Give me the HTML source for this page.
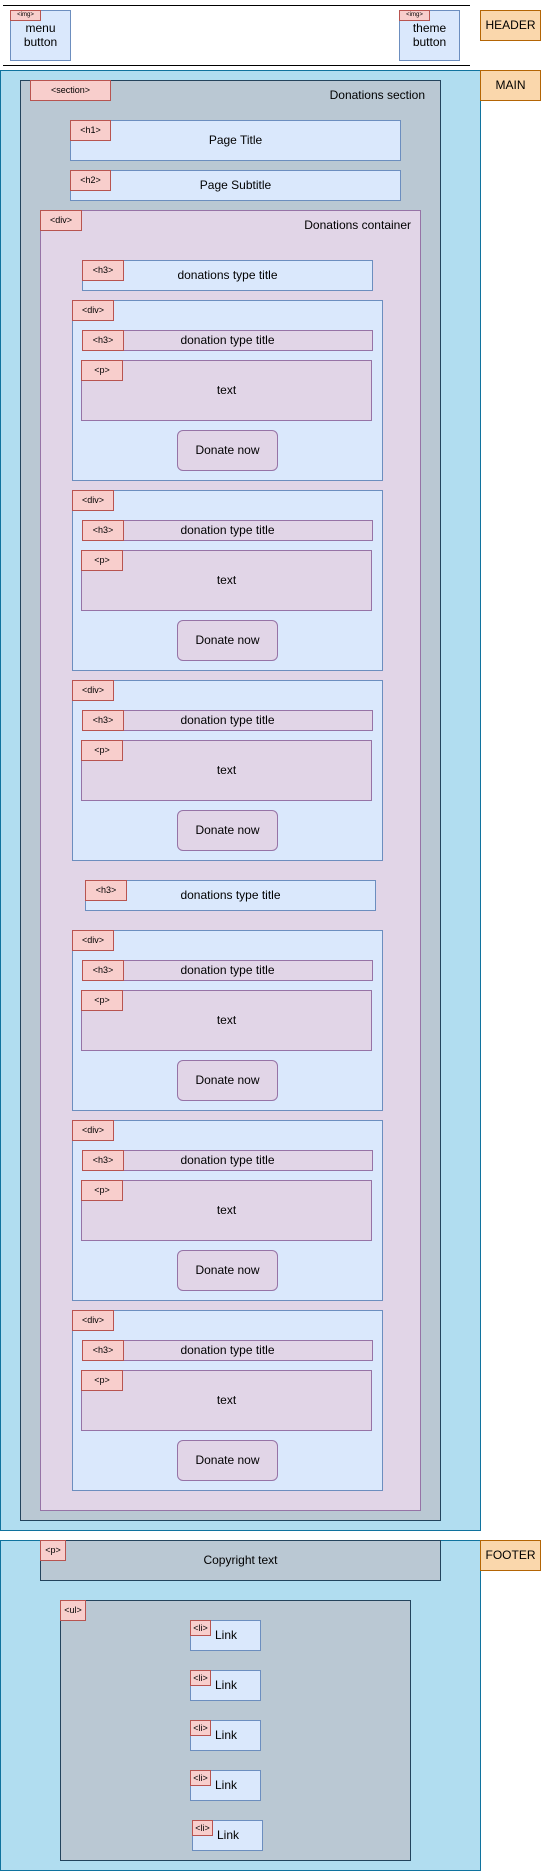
<!DOCTYPE html>
<html><head><meta charset="utf-8"><style>
body{margin:0;width:541px;height:1871px;position:relative;background:#fff;font-family:"Liberation Sans",sans-serif;overflow:hidden}
div{position:absolute;box-sizing:border-box;font-size:12px;color:#000}
.b{background:#dae8fc;border:1px solid #6c8ebf}
.t{background:#f8cecc;border:1px solid #b85450;font-size:9px;text-align:center;line-height:19px}
.p{background:#e1d5e7;border:1px solid #9673a6}
.g{background:#bac8d3;border:1px solid #23445d}
.m{background:#b1ddf0;border:1px solid #10739e}
.o{background:#fad7ac;border:1px solid #b46504;text-align:center;line-height:29px;font-size:12px}
.c{text-align:center}
.ln{height:1px;background:#000}
</style></head><body>
<div class="ln" style="left:3px;top:5px;width:467px"></div>
<div class="ln" style="left:3px;top:65px;width:467px"></div>
<div class="b c" style="left:10px;top:10px;width:61px;height:51px;padding-top:10px;line-height:14px">menu<br>button</div>
<div class="t" style="left:10px;top:10px;width:31px;height:11px;font-size:6px;line-height:9px">&lt;img&gt;</div>
<div class="b c" style="left:399px;top:10px;width:61px;height:51px;padding-top:10px;line-height:14px">theme<br>button</div>
<div class="t" style="left:399px;top:10px;width:31px;height:11px;font-size:6px;line-height:9px">&lt;img&gt;</div>
<div class="o" style="left:480px;top:10px;width:61px;height:31px">HEADER</div>

<div class="m" style="left:0;top:70px;width:481px;height:1461px"></div>
<div class="o" style="left:480px;top:70px;width:61px;height:31px">MAIN</div>
<div class="g" style="left:20px;top:80px;width:421px;height:1441px"></div>
<div class="t" style="left:30px;top:80px;width:81px;height:21px">&lt;section&gt;</div>
<div style="left:300px;top:88px;width:125px;text-align:right">Donations section</div>
<div class="b c" style="left:70px;top:120px;width:331px;height:41px;line-height:39px">Page Title</div>
<div class="t" style="left:70px;top:120px;width:41px;height:21px">&lt;h1&gt;</div>
<div class="b c" style="left:70px;top:170px;width:331px;height:31px;line-height:29px">Page Subtitle</div>
<div class="t" style="left:70px;top:170px;width:41px;height:21px">&lt;h2&gt;</div>
<div class="p" style="left:40px;top:210px;width:381px;height:1301px"></div>
<div class="t" style="left:40px;top:210px;width:42px;height:21px">&lt;div&gt;</div>
<div style="left:250px;top:218px;width:161px;text-align:right">Donations container</div>

<div class="b c" style="left:82px;top:260px;width:291px;height:31px;line-height:29px">donations type title</div>
<div class="t" style="left:82px;top:260px;width:42px;height:21px">&lt;h3&gt;</div>

<div class="b" style="left:72px;top:300px;width:311px;height:181px"></div>
<div class="t" style="left:72px;top:300px;width:42px;height:21px">&lt;div&gt;</div>
<div class="p c" style="left:82px;top:330px;width:291px;height:21px;line-height:19px">donation type title</div>
<div class="t" style="left:82px;top:330px;width:42px;height:21px">&lt;h3&gt;</div>
<div class="p c" style="left:81px;top:360px;width:291px;height:61px;line-height:59px">text</div>
<div class="t" style="left:81px;top:360px;width:42px;height:21px">&lt;p&gt;</div>
<div class="p c" style="left:177px;top:430px;width:101px;height:41px;line-height:39px;border-radius:6px">Donate now</div>

<div class="b" style="left:72px;top:490px;width:311px;height:181px"></div>
<div class="t" style="left:72px;top:490px;width:42px;height:21px">&lt;div&gt;</div>
<div class="p c" style="left:82px;top:520px;width:291px;height:21px;line-height:19px">donation type title</div>
<div class="t" style="left:82px;top:520px;width:42px;height:21px">&lt;h3&gt;</div>
<div class="p c" style="left:81px;top:550px;width:291px;height:61px;line-height:59px">text</div>
<div class="t" style="left:81px;top:550px;width:42px;height:21px">&lt;p&gt;</div>
<div class="p c" style="left:177px;top:620px;width:101px;height:41px;line-height:39px;border-radius:6px">Donate now</div>

<div class="b" style="left:72px;top:680px;width:311px;height:181px"></div>
<div class="t" style="left:72px;top:680px;width:42px;height:21px">&lt;div&gt;</div>
<div class="p c" style="left:82px;top:710px;width:291px;height:21px;line-height:19px">donation type title</div>
<div class="t" style="left:82px;top:710px;width:42px;height:21px">&lt;h3&gt;</div>
<div class="p c" style="left:81px;top:740px;width:291px;height:61px;line-height:59px">text</div>
<div class="t" style="left:81px;top:740px;width:42px;height:21px">&lt;p&gt;</div>
<div class="p c" style="left:177px;top:810px;width:101px;height:41px;line-height:39px;border-radius:6px">Donate now</div>

<div class="b c" style="left:85px;top:880px;width:291px;height:31px;line-height:29px">donations type title</div>
<div class="t" style="left:85px;top:880px;width:42px;height:21px">&lt;h3&gt;</div>

<div class="b" style="left:72px;top:930px;width:311px;height:181px"></div>
<div class="t" style="left:72px;top:930px;width:42px;height:21px">&lt;div&gt;</div>
<div class="p c" style="left:82px;top:960px;width:291px;height:21px;line-height:19px">donation type title</div>
<div class="t" style="left:82px;top:960px;width:42px;height:21px">&lt;h3&gt;</div>
<div class="p c" style="left:81px;top:990px;width:291px;height:61px;line-height:59px">text</div>
<div class="t" style="left:81px;top:990px;width:42px;height:21px">&lt;p&gt;</div>
<div class="p c" style="left:177px;top:1060px;width:101px;height:41px;line-height:39px;border-radius:6px">Donate now</div>

<div class="b" style="left:72px;top:1120px;width:311px;height:181px"></div>
<div class="t" style="left:72px;top:1120px;width:42px;height:21px">&lt;div&gt;</div>
<div class="p c" style="left:82px;top:1150px;width:291px;height:21px;line-height:19px">donation type title</div>
<div class="t" style="left:82px;top:1150px;width:42px;height:21px">&lt;h3&gt;</div>
<div class="p c" style="left:81px;top:1180px;width:291px;height:61px;line-height:59px">text</div>
<div class="t" style="left:81px;top:1180px;width:42px;height:21px">&lt;p&gt;</div>
<div class="p c" style="left:177px;top:1250px;width:101px;height:41px;line-height:39px;border-radius:6px">Donate now</div>

<div class="b" style="left:72px;top:1310px;width:311px;height:181px"></div>
<div class="t" style="left:72px;top:1310px;width:42px;height:21px">&lt;div&gt;</div>
<div class="p c" style="left:82px;top:1340px;width:291px;height:21px;line-height:19px">donation type title</div>
<div class="t" style="left:82px;top:1340px;width:42px;height:21px">&lt;h3&gt;</div>
<div class="p c" style="left:81px;top:1370px;width:291px;height:61px;line-height:59px">text</div>
<div class="t" style="left:81px;top:1370px;width:42px;height:21px">&lt;p&gt;</div>
<div class="p c" style="left:177px;top:1440px;width:101px;height:41px;line-height:39px;border-radius:6px">Donate now</div>

<div class="m" style="left:0;top:1540px;width:481px;height:331px"></div>
<div class="o" style="left:480px;top:1540px;width:61px;height:31px">FOOTER</div>
<div class="g c" style="left:40px;top:1540px;width:401px;height:41px;line-height:39px">Copyright text</div>
<div class="t" style="left:40px;top:1540px;width:26px;height:21px">&lt;p&gt;</div>
<div class="g" style="left:60px;top:1600px;width:351px;height:261px"></div>
<div class="t" style="left:60px;top:1600px;width:26px;height:21px">&lt;ul&gt;</div>
<div class="b" style="left:190px;top:1620px;width:71px;height:31px;line-height:29px;padding-left:24px">Link</div>
<div class="t" style="left:190px;top:1620px;width:21px;height:16px;line-height:14px">&lt;li&gt;</div>
<div class="b" style="left:190px;top:1670px;width:71px;height:31px;line-height:29px;padding-left:24px">Link</div>
<div class="t" style="left:190px;top:1670px;width:21px;height:16px;line-height:14px">&lt;li&gt;</div>
<div class="b" style="left:190px;top:1720px;width:71px;height:31px;line-height:29px;padding-left:24px">Link</div>
<div class="t" style="left:190px;top:1720px;width:21px;height:16px;line-height:14px">&lt;li&gt;</div>
<div class="b" style="left:190px;top:1770px;width:71px;height:31px;line-height:29px;padding-left:24px">Link</div>
<div class="t" style="left:190px;top:1770px;width:21px;height:16px;line-height:14px">&lt;li&gt;</div>
<div class="b" style="left:192px;top:1820px;width:71px;height:31px;line-height:29px;padding-left:24px">Link</div>
<div class="t" style="left:192px;top:1820px;width:21px;height:16px;line-height:14px">&lt;li&gt;</div>
</body></html>
